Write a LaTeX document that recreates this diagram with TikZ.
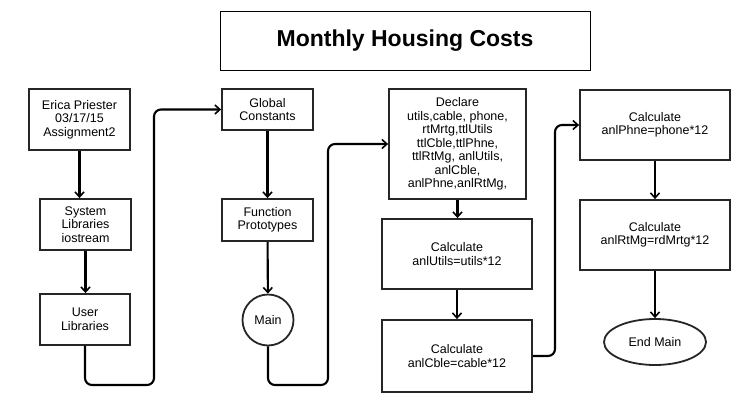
\documentclass[tikz,border=0pt]{standalone}
\usepackage{fontspec}
\setmainfont{Liberation Sans}
\usetikzlibrary{arrows.meta,shapes.geometric}
\begin{document}
\begin{tikzpicture}[x=1pt,y=-1pt,
  box/.style={draw=black!85,line width=1.8pt,inner sep=0pt,align=center,
    font=\fontsize{12.5}{13.5}\selectfont},
  conn/.style={line width=2.1pt,black,-{Straight Barb[length=5pt,width=9pt,line width=1.6pt]}},
  elbow/.style={conn,rounded corners=7pt}]
\useasboundingbox[fill=white] (0,0) rectangle (755,410);
\node[draw=black,line width=1pt,minimum width=370pt,minimum height=59pt,inner sep=0pt,
  font=\fontsize{23}{26}\selectfont\bfseries] (title) at (405,40.5) {Monthly Housing Costs};
\node[box,minimum width=101pt,minimum height=61pt] (erica) at (79.5,119.5) {Erica Priester\\03/17/15\\Assignment2};
\node[box,minimum width=91pt,minimum height=51pt] (sys) at (85.5,224.5) {System\\Libraries\\iostream};
\node[box,minimum width=90pt,minimum height=51pt] (user) at (85,319.5) {User\\Libraries};
\node[box,minimum width=91pt,minimum height=41pt] (glob) at (267.5,109.5) {Global\\Constants};
\node[box,minimum width=91pt,minimum height=42pt] (func) at (267.5,220) {Function\\Prototypes};
\node[box,circle,minimum size=51pt] (main) at (268,320) {Main};
\node[box,minimum width=137pt,minimum height=110pt] (decl) at (457.5,144) {Declare\\utils,cable, phone,\\rtMrtg,ttlUtils\\ttlCble,ttlPhne,\\ttlRtMg, anlUtils,\\anlCble,\\anlPhne,anlRtMg,};
\node[box,minimum width=150pt,minimum height=70pt] (utils) at (457,254) {Calculate\\anlUtils=utils*12};
\node[box,minimum width=150pt,minimum height=72pt] (cble) at (457,356) {Calculate\\anlCble=cable*12};
\node[box,minimum width=150pt,minimum height=70pt] (phne) at (655,125) {Calculate\\anlPhne=phone*12};
\node[box,minimum width=150pt,minimum height=70pt] (rtmg) at (655,235) {Calculate\\anlRtMg=rdMrtg*12};
\node[box,ellipse,minimum width=102pt,minimum height=46pt] (endm) at (655,342) {End Main};
\coordinate (c1) at (154,385);
\coordinate (c2) at (328,385);
\coordinate (c3) at (555,240);
\draw[conn] (erica.south) -- (erica.south |- sys.north);
\draw[conn] (sys.south) -- (sys.south |- user.north);
\draw[elbow] (user.south) |- (c1) |- (glob.west);
\draw[conn] (glob) -- (func);
\draw[conn] (func) -- (main);
\draw[elbow] (main.south) |- (c2) |- (decl.west);
\draw[conn] (decl.south) -- (decl.south |- utils.north);
\draw[conn] (utils.south) -- (cble.north);
\draw[elbow] (cble.east) -| (c3) |- (phne.west);
\draw[conn] (phne) -- (rtmg);
\draw[conn] (rtmg) -- (endm);
\end{tikzpicture}
\end{document}
